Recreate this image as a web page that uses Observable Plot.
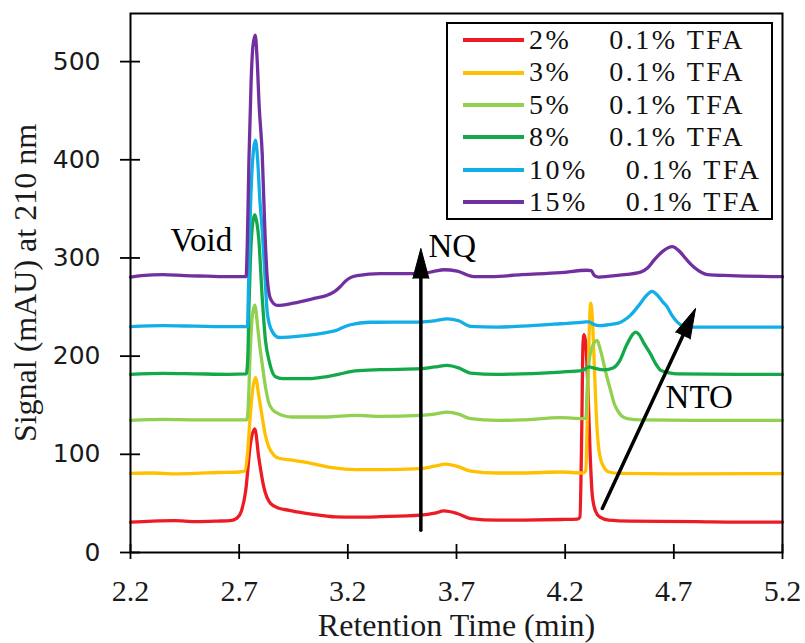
<!DOCTYPE html>
<html>
<head>
<meta charset="utf-8">
<script src="https://cdn.jsdelivr.net/npm/d3@7"></script>
<script src="https://cdn.jsdelivr.net/npm/@observablehq/plot@0.6"></script>
<style>
  body { margin: 0; background: #fff; }
  #wrap { position: relative; width: 805px; height: 643px; overflow: hidden; }
  #legend {
    position: absolute; left: 446px; top: 22px; width: 323px; height: 194px;
    border: 2px solid #000; background: #fff;
    font-family: "Liberation Serif", "Times New Roman", serif; font-size: 28px; letter-spacing: 2.5px; color: #111;
  }
  .row { display: flex; align-items: center; height: 32.4px; line-height: 32.4px; white-space: pre; }
  .swatch { width: 61px; height: 4px; margin-left: 15px; margin-right: 5px; flex: none; }
</style>
</head>
<body>
<div id="wrap"></div>
<script>
// ---------------- data ----------------
const seriesNames = ["2%    0.1% TFA", "3%    0.1% TFA", "5%    0.1% TFA", "8%    0.1% TFA", "10%    0.1% TFA", "15%    0.1% TFA"];
const seriesColors = ["#ed1c24", "#ffc000", "#92d050", "#13a84a", "#12aee8", "#7030a0"];

const series2 = [[2.2,31],[2.3,32],[2.4,32.5],[2.5,31.5],[2.6,32],[2.66,32.5],[2.69,35],[2.71,42],[2.73,63],[2.752,111],[2.772,126],[2.79,97],[2.813,67],[2.844,50],[2.883,45],[2.93,43],[2.975,41],[3.067,38],[3.143,36.2],[3.235,36],[3.35,36.5],[3.535,38],[3.6,40],[3.642,42.3],[3.703,39.7],[3.764,34.6],[3.888,32.9],[4.0,33],[4.179,33.6],[4.256,34],[4.268,36],[4.276,120],[4.282,212],[4.287,222],[4.295,212],[4.305,165],[4.315,100],[4.325,58],[4.34,42],[4.36,36],[4.4,33],[4.5,32],[4.8,31.5],[5.0,31],[5.2,31]];
const series3 = [[2.2,80.5],[2.3,81],[2.4,80],[2.5,80.5],[2.6,81.5],[2.7,82],[2.725,83],[2.738,100],[2.748,130],[2.76,162],[2.775,178],[2.79,160],[2.806,138],[2.82,120],[2.837,107],[2.86,99],[2.883,96],[2.944,94],[3.036,90.6],[3.128,86.5],[3.235,84.5],[3.35,84.5],[3.535,85.5],[3.6,88],[3.65,90],[3.7,88],[3.764,83],[3.888,81],[4.0,81],[4.179,82],[4.28,81],[4.295,83],[4.302,140],[4.31,220],[4.318,254],[4.326,235],[4.335,185],[4.347,125],[4.36,98],[4.378,87],[4.4,82],[4.45,80.5],[4.7,80],[5.2,80.4]];
const series5 = [[2.2,134.6],[2.35,135.5],[2.5,135],[2.65,135],[2.735,135],[2.742,150],[2.75,200],[2.76,240],[2.772,252],[2.785,230],[2.795,210],[2.806,192],[2.82,170],[2.837,152],[2.867,143],[2.944,138],[3.097,138],[3.235,139.7],[3.35,138.7],[3.535,139.7],[3.6,141],[3.657,143],[3.71,141],[3.764,136.4],[3.888,134.6],[4.0,135],[4.179,137.4],[4.28,136.4],[4.296,137],[4.3,160],[4.306,185],[4.318,205],[4.335,214],[4.347,216],[4.36,208],[4.378,192],[4.393,178],[4.409,165],[4.425,152],[4.44,145],[4.46,139],[4.486,136.4],[4.55,135],[4.8,134.6],[5.2,134.6]];
const series8 = [[2.2,181.5],[2.35,182.5],[2.5,182],[2.65,181.5],[2.733,182],[2.74,200],[2.745,250],[2.752,300],[2.762,335],[2.772,344],[2.782,335],[2.79,320],[2.806,260],[2.821,216],[2.837,196],[2.867,179],[2.9,177],[3.02,177],[3.1,179],[3.157,181.5],[3.235,185],[3.35,186.2],[3.535,187.2],[3.6,189],[3.657,190.6],[3.71,188],[3.764,182.8],[3.888,181.5],[4.0,182],[4.179,183.8],[4.28,185.5],[4.31,189],[4.33,188],[4.38,186],[4.42,188],[4.45,195],[4.48,210],[4.51,222],[4.524,224.5],[4.54,222],[4.56,214],[4.593,202],[4.62,191],[4.64,185.5],[4.68,183],[4.716,182],[5.0,181.5],[5.2,181.5]];
const series10 = [[2.2,230],[2.35,231],[2.5,230.5],[2.65,230],[2.738,230],[2.742,260],[2.748,320],[2.757,380],[2.766,410],[2.775,420],[2.785,400],[2.795,360],[2.806,328],[2.813,304],[2.83,243],[2.85,226],[2.883,219],[3.0,221],[3.1,224],[3.143,226],[3.18,229.5],[3.212,232],[3.3,234.5],[3.535,234.7],[3.6,236],[3.657,238],[3.71,236],[3.764,230.3],[3.888,229.6],[4.0,230.5],[4.179,233],[4.286,234.7],[4.31,235],[4.33,232.5],[4.36,231],[4.4,232],[4.45,234],[4.47,236.4],[4.5,241.5],[4.54,252],[4.575,262],[4.6,266],[4.625,262],[4.65,255],[4.67,250],[4.69,242],[4.716,234.7],[4.74,231],[4.777,229.5],[5.2,229.5]];
const series15 = [[2.2,280.5],[2.25,282],[2.35,283],[2.45,282],[2.55,281.5],[2.65,281],[2.732,281],[2.737,310],[2.745,400],[2.755,480],[2.763,515],[2.774,527],[2.782,505],[2.792,455],[2.806,406],[2.818,330],[2.829,280],[2.845,258],[2.875,251.7],[2.95,254],[3.05,259],[3.105,262],[3.14,266],[3.166,271],[3.19,276.5],[3.212,280],[3.243,282],[3.35,284],[3.535,284],[3.6,286.5],[3.642,288],[3.703,286.6],[3.78,281],[3.857,281],[4.0,283],[4.179,285],[4.3,287.5],[4.32,287],[4.335,282],[4.355,280.5],[4.45,282.5],[4.547,285.6],[4.58,290],[4.61,298],[4.65,307],[4.693,311.5],[4.72,308],[4.76,298],[4.793,290.5],[4.83,285],[4.854,283],[4.96,282],[5.2,281]];

const xTicks = [2.2, 2.7, 3.2, 3.7, 4.2, 4.7, 5.2];
const yTicks = [0, 100, 200, 300, 400, 500];
const xTitle = "Retention Time (min)";
const yTitle = "Signal (mAU) at 210 nm";

const annotLabels = ["Void", "NQ", "NTO"];
const annotX = [2.384, 3.571, 4.662];
const annotY = [318, 312, 157.5];

const arrowX1 = [3.536, 4.371];
const arrowY1 = [22.7, 44.8];
const arrowX2 = [3.536, 4.80];
const arrowY2 = [309.7, 248.5];

// ---------------- layout ----------------
const W = 805, H = 643;
const mL = 130, mR = 23, mT = 13, mB = 91;
const xDomain = [2.2, 5.2], yDomain = [0, 549];
const plotW = W - mL - mR, plotH = H - mT - mB;
const kx = plotW / (xDomain[1] - xDomain[0]);
const ky = plotH / (yDomain[1] - yDomain[0]);

const allSeries = [series2, series3, series5, series8, series10, series15];
const rows = allSeries.flatMap((s, i) => s.map(([t, v]) => ({name: seriesNames[i], t, v})));

const arrows = arrowX1.map((x1, i) => {
  const x2 = arrowX2[i], y1 = arrowY1[i], y2 = arrowY2[i];
  const angle = Math.atan2((x2 - x1) * kx, (y2 - y1) * ky) * 180 / Math.PI;
  return {x1, y1, x2, y2, angle};
});
const annots = annotLabels.map((l, i) => ({l, x: annotX[i], y: annotY[i]}));

const serif = "Liberation Serif, Times New Roman, serif";

const chart = Plot.plot({
  width: W, height: H,
  marginLeft: mL, marginRight: mR, marginTop: mT, marginBottom: mB,
  x: {domain: xDomain},
  y: {domain: yDomain},
  color: {domain: seriesNames, range: seriesColors},
  style: {background: "#fff", color: "#000", overflow: "visible"},
  marks: [
    Plot.line(rows, {x: "t", y: "v", z: "name", stroke: "name", strokeWidth: 3.3, curve: "monotone-x"}),
    Plot.frame({stroke: "#000", strokeWidth: 2}),
    Plot.ruleX(xTicks, {x: d => d, insetTop: plotH - 8, stroke: "#000", strokeWidth: 1.8}),
    Plot.ruleY(yTicks, {y: d => d, insetRight: plotW - 10, stroke: "#000", strokeWidth: 1.8}),
    Plot.axisX({ticks: xTicks, tickSize: 7, tickPadding: 20, tickFormat: d => d.toFixed(1), label: null,
      fontFamily: serif, fontSize: 30, strokeWidth: 1.8, fill: "#1a1a1a"}),
    Plot.axisY({ticks: yTicks, tickSize: 10, tickPadding: 20, tickFormat: d => String(d), label: null,
      fontFamily: "DejaVu Sans, sans-serif", fontSize: 25, strokeWidth: 1.8, fill: "#1a1a1a"}),
    Plot.text([xTitle], {frameAnchor: "bottom", dy: 73, textAnchor: "middle", lineAnchor: "middle", fontFamily: serif, fontSize: 32, fill: "#1a1a1a"}),
    Plot.text([yTitle], {frameAnchor: "left", dx: -105, rotate: -90, textAnchor: "middle", lineAnchor: "middle", fontFamily: serif, fontSize: 32, fill: "#1a1a1a"}),
    Plot.text(annots, {x: "x", y: "y", text: "l", textAnchor: "start", lineAnchor: "middle", fontFamily: serif, fontSize: 33, fill: "#000"}),
    Plot.arrow(arrows, {x1: "x1", y1: "y1", x2: "x2", y2: "y2", headLength: 0, insetEnd: 16, stroke: "#000", strokeWidth: 3.5}),
    Plot.vector(arrows, {x: "x2", y: "y2", rotate: "angle", length: 30, r: 8, shape: "spike", anchor: "end", fill: "#000", stroke: "#000", strokeWidth: 1})
  ]
});

const wrap = document.getElementById("wrap");
wrap.appendChild(chart);

// legend overlay (inside plot area, top right)
const legend = document.createElement("div");
legend.id = "legend";
seriesNames.forEach((name, i) => {
  const row = document.createElement("div");
  row.className = "row";
  const sw = document.createElement("span");
  sw.className = "swatch";
  sw.style.background = seriesColors[i];
  const tx = document.createElement("span");
  tx.textContent = name;
  row.appendChild(sw);
  row.appendChild(tx);
  legend.appendChild(row);
});
wrap.appendChild(legend);
</script>
</body>
</html>
